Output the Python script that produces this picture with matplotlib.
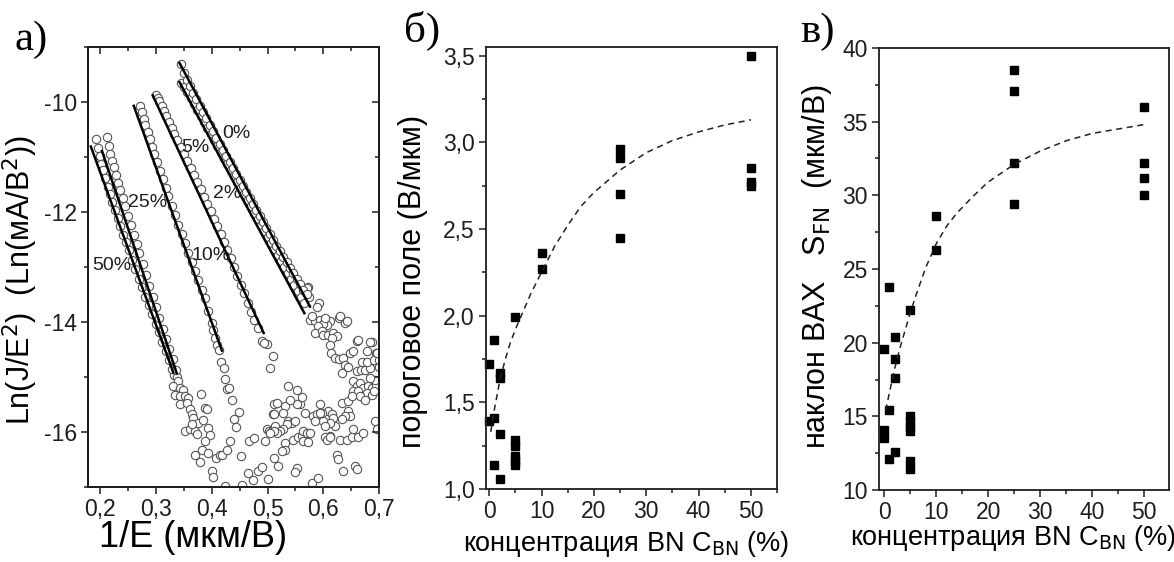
import matplotlib

matplotlib.use("Agg")
import matplotlib.pyplot as plt
from matplotlib.ticker import FuncFormatter, MultipleLocator, NullFormatter

plt.rcParams["font.family"] = ["Liberation Sans", "DejaVu Sans"]
plt.rcParams["axes.unicode_minus"] = False

# ---- panel a: Fowler-Nordheim plots, open circles per BN content ----
x_0pct = [0.345, 0.350, 0.355, 0.360, 0.366, 0.372, 0.378, 0.384, 0.390, 0.396, 0.402, 0.408, 0.414,
          0.420, 0.426, 0.432, 0.438, 0.444, 0.450, 0.456, 0.462, 0.468, 0.474, 0.480, 0.486, 0.492,
          0.498, 0.504, 0.510, 0.516, 0.522, 0.528, 0.534, 0.540, 0.546, 0.552, 0.558, 0.564, 0.570]
y_0pct = [-9.31, -9.48, -9.60, -9.71, -9.83, -9.95, -10.07, -10.19, -10.30, -10.42, -10.53, -10.65, -10.76,
          -10.87, -10.98, -11.09, -11.20, -11.31, -11.42, -11.53, -11.64, -11.75, -11.86, -11.97, -12.08,
          -12.19, -12.30, -12.40, -12.51, -12.61, -12.71, -12.81, -12.91, -13.01, -13.11, -13.21, -13.31,
          -13.41, -13.50]
x_2pct = [0.345, 0.350, 0.356, 0.362, 0.368, 0.374, 0.380, 0.386, 0.392, 0.398, 0.404, 0.410, 0.416,
          0.422, 0.428, 0.434, 0.440, 0.446, 0.452, 0.458, 0.464, 0.470, 0.476, 0.482, 0.488, 0.494,
          0.500, 0.506, 0.512, 0.518, 0.524, 0.530, 0.536, 0.542, 0.548, 0.554, 0.560, 0.566]
y_2pct = [-9.65, -9.72, -9.81, -9.92, -10.03, -10.14, -10.25, -10.36, -10.47, -10.58, -10.69, -10.80,
          -10.91, -11.02, -11.13, -11.24, -11.35, -11.46, -11.57, -11.68, -11.79, -11.90, -12.01, -12.12,
          -12.23, -12.34, -12.45, -12.56, -12.67, -12.78, -12.89, -13.00, -13.11, -13.22, -13.33, -13.44,
          -13.55, -13.66]
x_5pct = [0.300, 0.303, 0.306, 0.310, 0.314, 0.318, 0.323, 0.328, 0.333, 0.338, 0.344, 0.350, 0.356,
          0.362, 0.368, 0.374, 0.380, 0.386, 0.392, 0.398, 0.404, 0.410, 0.416, 0.422, 0.428, 0.434,
          0.440, 0.446, 0.452, 0.458, 0.464, 0.470, 0.476, 0.482]
y_5pct = [-9.88, -9.93, -9.99, -10.08, -10.16, -10.25, -10.36, -10.47, -10.58, -10.69, -10.81, -10.94,
          -11.07, -11.20, -11.33, -11.46, -11.59, -11.72, -11.85, -11.99, -12.12, -12.26, -12.40, -12.54,
          -12.69, -12.84, -13.00, -13.16, -13.32, -13.48, -13.65, -13.81, -13.97, -14.11]
x_10pct = [0.272, 0.275, 0.278, 0.281, 0.285, 0.289, 0.293, 0.297, 0.302, 0.307, 0.312, 0.317, 0.322,
           0.328, 0.334, 0.340, 0.346, 0.352, 0.358, 0.364, 0.370, 0.376, 0.382, 0.388, 0.394, 0.400,
           0.403, 0.406, 0.409, 0.412, 0.417, 0.421, 0.424, 0.428, 0.431, 0.436]
y_10pct = [-10.07, -10.19, -10.31, -10.41, -10.54, -10.68, -10.81, -10.94, -11.10, -11.25, -11.40, -11.56,
           -11.71, -11.89, -12.05, -12.23, -12.40, -12.57, -12.74, -12.91, -13.07, -13.24, -13.41, -13.57,
           -13.80, -14.02, -14.15, -14.30, -14.42, -14.51, -14.72, -14.84, -15.04, -15.22, -15.20, -15.41]
x_25pct = [0.212, 0.215, 0.218, 0.221, 0.224, 0.228, 0.232, 0.236, 0.240, 0.245, 0.250, 0.255, 0.260,
           0.265, 0.270, 0.276, 0.282, 0.288, 0.294, 0.300, 0.306, 0.312, 0.318, 0.324, 0.330, 0.336]
y_25pct = [-10.63, -10.80, -10.94, -11.07, -11.19, -11.33, -11.47, -11.60, -11.74, -11.90, -12.07, -12.24,
           -12.41, -12.58, -12.75, -12.95, -13.15, -13.35, -13.54, -13.73, -13.92, -14.12, -14.31, -14.49,
           -14.68, -14.87]
x_50pct = [0.193, 0.196, 0.199, 0.202, 0.205, 0.209, 0.213, 0.217, 0.221, 0.226, 0.231, 0.236, 0.241,
           0.246, 0.251, 0.257, 0.263, 0.269, 0.275, 0.281, 0.287, 0.293, 0.299, 0.305, 0.311, 0.317,
           0.323, 0.329]
y_50pct = [-10.68, -10.84, -10.98, -11.12, -11.24, -11.39, -11.54, -11.68, -11.81, -11.97, -12.11, -12.26,
           -12.41, -12.55, -12.70, -12.87, -13.04, -13.21, -13.37, -13.54, -13.70, -13.86, -14.03, -14.19,
           -14.36, -14.52, -14.69, -14.86]

# noisy low-current tail, read point by point
x_noise = [0.333, 0.337, 0.340, 0.331, 0.343, 0.349, 0.334, 0.343, 0.352, 0.358, 0.343, 0.355, 0.361,
           0.364, 0.367, 0.352, 0.361, 0.370, 0.373, 0.376, 0.364,
           0.448, 0.439, 0.443, 0.381, 0.388, 0.391, 0.385, 0.394, 0.397, 0.387, 0.383, 0.394, 0.369,
           0.379, 0.407, 0.415, 0.419, 0.427, 0.433, 0.453, 0.400, 0.403, 0.424, 0.465, 0.474, 0.483,
           0.490, 0.501, 0.455, 0.466, 0.476, 0.496, 0.499, 0.503, 0.508, 0.509, 0.511, 0.505, 0.509,
           0.499, 0.490, 0.494,
           0.572, 0.575, 0.593, 0.576, 0.585, 0.594, 0.603, 0.612, 0.607, 0.599, 0.591,
           0.585, 0.597, 0.600, 0.609, 0.618, 0.624, 0.615, 0.628, 0.638,
           0.612, 0.613, 0.621, 0.629, 0.636, 0.639, 0.633, 0.645,
           0.648, 0.654, 0.661, 0.669, 0.660, 0.667, 0.675, 0.683, 0.678, 0.687, 0.678, 0.695, 0.691,
           0.699, 0.699,
           0.654, 0.661, 0.666, 0.672, 0.681, 0.687, 0.695, 0.654, 0.663, 0.678, 0.687, 0.666, 0.675,
           0.690, 0.633, 0.645, 0.651, 0.645, 0.648, 0.639, 0.633,
           0.609, 0.615, 0.618, 0.621, 0.612, 0.600, 0.603, 0.612, 0.603, 0.594, 0.597,
           0.582, 0.588, 0.594, 0.585, 0.567, 0.558, 0.552, 0.561, 0.552, 0.537,
           0.532, 0.541, 0.517, 0.528, 0.511, 0.514,
           0.537, 0.544, 0.549, 0.534, 0.528, 0.523, 0.517, 0.511, 0.505,
           0.546, 0.555, 0.561, 0.564, 0.570, 0.564, 0.573, 0.576,
           0.532, 0.532, 0.526, 0.512, 0.519, 0.552, 0.549, 0.579, 0.591,
           0.606, 0.612, 0.630, 0.642, 0.651, 0.663, 0.654, 0.672,
           0.624, 0.627, 0.636, 0.657, 0.661, 0.693, 0.696,
           0.570, 0.588, 0.579, 0.603, 0.630, 0.642, 0.663, 0.684, 0.696, 0.693, 0.684]
y_noise = [-14.96, -15.00, -15.08, -15.17, -15.20, -15.23, -15.32, -15.35, -15.34, -15.38, -15.50, -15.47,
           -15.59, -15.68, -15.74, -15.98, -15.95, -15.98, -16.03, -15.83, -15.86,
           -15.64, -15.77, -15.91, -15.31, -15.56, -15.59, -15.79, -15.92, -16.06, -16.17, -16.33, -16.39,
           -16.41, -16.55, -16.47, -16.42, -16.41, -16.33, -16.17, -16.44, -16.71, -16.82, -16.98, -16.75,
           -16.87, -16.71, -16.64, -16.85, -16.97, -16.17, -16.11, -16.17, -15.94, -15.98, -15.98, -15.68,
           -15.50, -14.84, -14.62, -14.40, -14.34, -14.39,
           -13.37, -13.54, -13.65, -13.96, -13.99, -13.96, -13.96, -13.99, -14.05, -14.04, -14.08,
           -14.20, -14.17, -14.24, -14.24, -14.20, -14.25, -14.30, -13.93, -14.01,
           -14.42, -14.56, -14.66, -14.68, -14.66, -14.78, -14.93, -14.82,
           -14.57, -14.52, -14.34, -14.72, -14.90, -14.88, -14.87, -14.84, -14.72, -14.37, -14.52, -14.57,
           -14.69, -14.69, -14.81,
           -15.08, -15.17, -15.11, -15.20, -15.17, -15.20, -15.14, -15.26, -15.26, -15.29, -15.32, -15.35,
           -15.41, -15.26, -15.47, -15.44, -15.35, -15.62, -15.71, -15.71, -15.77,
           -15.62, -15.68, -15.74, -15.89, -15.83, -15.80, -15.89, -16.07, -16.10, -15.50, -15.65,
           -15.71, -15.68, -15.65, -15.80, -15.65, -15.50, -15.50, -15.36, -15.23, -15.16,
           -15.52, -15.41, -15.48, -15.65, -15.68, -15.89,
           -15.80, -15.83, -15.80, -15.86, -15.95, -15.98, -16.01, -15.98, -16.01,
           -16.14, -16.10, -16.07, -15.98, -16.01, -16.17, -16.18, -16.01,
           -16.20, -16.32, -16.35, -16.47, -16.62, -16.65, -16.73, -16.92, -16.83,
           -16.14, -16.10, -16.14, -16.14, -16.10, -16.10, -15.95, -16.01,
           -16.41, -16.50, -16.71, -16.62, -16.67, -15.80, -15.95,
           -13.39, -13.72, -13.90, -13.93, -13.90, -13.99, -14.33, -14.36, -14.57, -15.05, -15.02]

# linear fits: start / end points (1/E, ln) for 0, 2, 5, 10, 25, 50 %
fit_x0 = [0.342, 0.342, 0.294, 0.260, 0.203, 0.183]
fit_y0 = [-9.29, -9.64, -9.88, -10.07, -10.89, -10.81]
fit_x1 = [0.576, 0.566, 0.493, 0.418, 0.337, 0.331]
fit_y1 = [-13.72, -13.84, -14.20, -14.52, -14.93, -14.92]

curve_labels = ["0%", "2%", "5%", "10%", "25%", "50%"]
label_x = [0.418, 0.403, 0.346, 0.364, 0.250, 0.186]
label_y = [-10.58, -11.67, -10.83, -12.79, -11.82, -12.97]

# ---- panel b: threshold field vs BN content ----
conc_b = [0, 0, 1, 1, 1, 2, 2, 2, 2, 5, 5, 5, 5, 5, 5, 10, 10, 25, 25, 25, 25, 50, 50, 50, 50]
field_b = [1.72, 1.39, 1.86, 1.41, 1.14, 1.67, 1.64, 1.32, 1.06, 1.99, 1.28, 1.25, 1.19, 1.16, 1.14,
           2.36, 2.27, 2.96, 2.91, 2.70, 2.45, 3.50, 2.85, 2.77, 2.75]
trend_b_x = [0.3, 1, 2, 3, 4, 5, 6, 8, 10, 12.5, 15, 17.5, 20, 25, 30, 35, 40, 45, 50]
trend_b_y = [1.33, 1.46, 1.62, 1.74, 1.84, 1.92, 1.99, 2.13, 2.25, 2.40, 2.52, 2.63, 2.71, 2.84,
             2.94, 3.01, 3.06, 3.10, 3.13]

# ---- panel c: FN slope vs BN content ----
conc_c = [0, 0, 0, 1, 1, 1, 2, 2, 2, 2, 5, 5, 5, 5, 5, 5, 5, 10, 10, 25, 25, 25, 25, 50, 50, 50, 50]
slope_c = [19.6, 14.1, 13.5, 23.8, 15.4, 12.1, 20.4, 18.9, 17.6, 12.6, 22.2, 15.0, 14.6, 14.3, 14.0,
           12.0, 11.4, 28.6, 26.3, 38.5, 37.1, 32.2, 29.4, 36.0, 32.2, 31.2, 30.0]
trend_c_x = [0.3, 1, 2, 3, 4, 5, 6, 8, 10, 12, 14, 17, 20, 25, 30, 35, 40, 45, 50]
trend_c_y = [15.4, 16.6, 18.2, 19.6, 20.8, 22.0, 23.1, 25.1, 26.7, 27.9, 28.8, 29.9, 30.9, 32.1,
             33.0, 33.7, 34.2, 34.5, 34.8]

INK = "#1e1e1e"


def comma(fmt):
    return FuncFormatter(lambda v, _: format(v, fmt).replace(".", ","))


def style_axis(ax, size=16.5, direction="out"):
    for side in ax.spines.values():
        side.set_linewidth(1.3)
        side.set_color(INK)
    ax.tick_params(which="both", direction=direction, width=1.1, labelsize=size, colors=INK, pad=3)
    ax.tick_params(which="major", length=5)
    ax.tick_params(which="minor", length=3)


fig = plt.figure(figsize=(11.74, 5.62), dpi=100)
ax_a = fig.add_axes([0.075, 0.1335, 0.2479, 0.7829])
ax_b = fig.add_axes([0.414, 0.1299, 0.2479, 0.7865])
ax_c = fig.add_axes([0.7487, 0.1281, 0.2470, 0.7865])

# panel a
circ = dict(ls="none", marker="o", ms=6, mfc="white", mec="#555555", mew=0.8)
for xs, ys in [(x_noise, y_noise), (x_50pct, y_50pct), (x_25pct, y_25pct), (x_10pct, y_10pct),
               (x_5pct, y_5pct), (x_2pct, y_2pct), (x_0pct, y_0pct)]:
    ax_a.plot(xs, ys, **circ)
for x0, y0, x1, y1 in zip(fit_x0, fit_y0, fit_x1, fit_y1):
    ax_a.plot([x0, x1], [y0, y1], color="black", lw=1.8)
for txt, lx, ly in zip(curve_labels, label_x, label_y):
    ax_a.text(lx, ly, txt, fontsize=14, va="center", ha="left", color=INK)
ax_a.set_xlim(0.178, 0.7)
ax_a.set_ylim(-17, -9)
ax_a.xaxis.set_major_locator(MultipleLocator(0.1))
ax_a.xaxis.set_minor_locator(MultipleLocator(0.05))
ax_a.yaxis.set_major_locator(MultipleLocator(2))
ax_a.yaxis.set_minor_locator(MultipleLocator(1))
ax_a.xaxis.set_major_formatter(comma(".1f"))
style_axis(ax_a)

# mirrored ticks on top / right pointing inward (Origin style)
ax_top = ax_a.twiny()
ax_top.set_xlim(ax_a.get_xlim())
ax_top.xaxis.set_major_locator(MultipleLocator(0.1))
ax_top.xaxis.set_minor_locator(MultipleLocator(0.05))
ax_top.xaxis.set_major_formatter(NullFormatter())
style_axis(ax_top, direction="in")
ax_right = ax_a.twinx()
ax_right.set_ylim(ax_a.get_ylim())
ax_right.yaxis.set_major_locator(MultipleLocator(2))
ax_right.yaxis.set_minor_locator(MultipleLocator(1))
ax_right.yaxis.set_major_formatter(NullFormatter())
style_axis(ax_right, direction="in")

ax_a.set_xlabel("1/E (мкм/В)", fontsize=26)
ax_a.xaxis.set_label_coords(0.36, -0.075, transform=ax_a.transAxes)
ax_a.xaxis.label.set_va("top")
ax_a.set_ylabel("Ln(J/E$^2$)  (Ln(мА/В$^2$))", fontsize=22)
ax_a.yaxis.set_label_coords(-0.165, 0.47, transform=ax_a.transAxes)

# panel b
ax_b.plot(conc_b, field_b, ls="none", marker="s", ms=5.5, color="black", clip_on=False)
ax_b.plot(trend_b_x, trend_b_y, ls=(0, (4, 3)), color="#222222", lw=1.1)
ax_b.set_xlim(-0.6, 55)
ax_b.set_ylim(1.0, 3.55)
ax_b.xaxis.set_major_locator(MultipleLocator(10))
ax_b.xaxis.set_minor_locator(MultipleLocator(5))
ax_b.yaxis.set_major_locator(MultipleLocator(0.5))
ax_b.yaxis.set_minor_locator(MultipleLocator(0.25))
ax_b.yaxis.set_major_formatter(comma(".1f"))
style_axis(ax_b)
ax_b.set_xlabel("концентрация BN C$_{\\mathrm{BN}}$ (%)", fontsize=19.5)
ax_b.xaxis.set_label_coords(0.48, -0.09, transform=ax_b.transAxes)
ax_b.xaxis.label.set_va("top")
ax_b.set_ylabel("пороговое поле (В/мкм)", fontsize=22)
ax_b.yaxis.set_label_coords(-0.2, 0.47, transform=ax_b.transAxes)

# panel c
ax_c.plot(conc_c, slope_c, ls="none", marker="s", ms=5.5, color="black", clip_on=False)
ax_c.plot(trend_c_x, trend_c_y, ls=(0, (4, 3)), color="#222222", lw=1.1)
ax_c.set_xlim(-1, 54.8)
ax_c.set_ylim(10, 40)
ax_c.xaxis.set_major_locator(MultipleLocator(10))
ax_c.xaxis.set_minor_locator(MultipleLocator(5))
ax_c.yaxis.set_major_locator(MultipleLocator(5))
ax_c.yaxis.set_minor_locator(MultipleLocator(2.5))
style_axis(ax_c)
ax_c.set_xlabel("концентрация BN C$_{\\mathrm{BN}}$ (%)", fontsize=19.5)
ax_c.xaxis.set_label_coords(0.462, -0.075, transform=ax_c.transAxes)
ax_c.xaxis.label.set_va("top")
ax_c.set_ylabel("наклон ВАХ   S$_{\\mathrm{FN}}$  (мкм/В)", fontsize=22)
ax_c.yaxis.set_label_coords(-0.155, 0.505, transform=ax_c.transAxes)

serif = ["Liberation Serif", "DejaVu Serif"]
fig.text(0.012, 0.911, "а)", fontsize=31, family=serif, va="baseline")
fig.text(0.344, 0.925, "б)", fontsize=31, family=serif, va="baseline")
fig.text(0.682, 0.925, "в)", fontsize=31, family=serif, va="baseline")

fig.savefig("out.png", dpi=100)
